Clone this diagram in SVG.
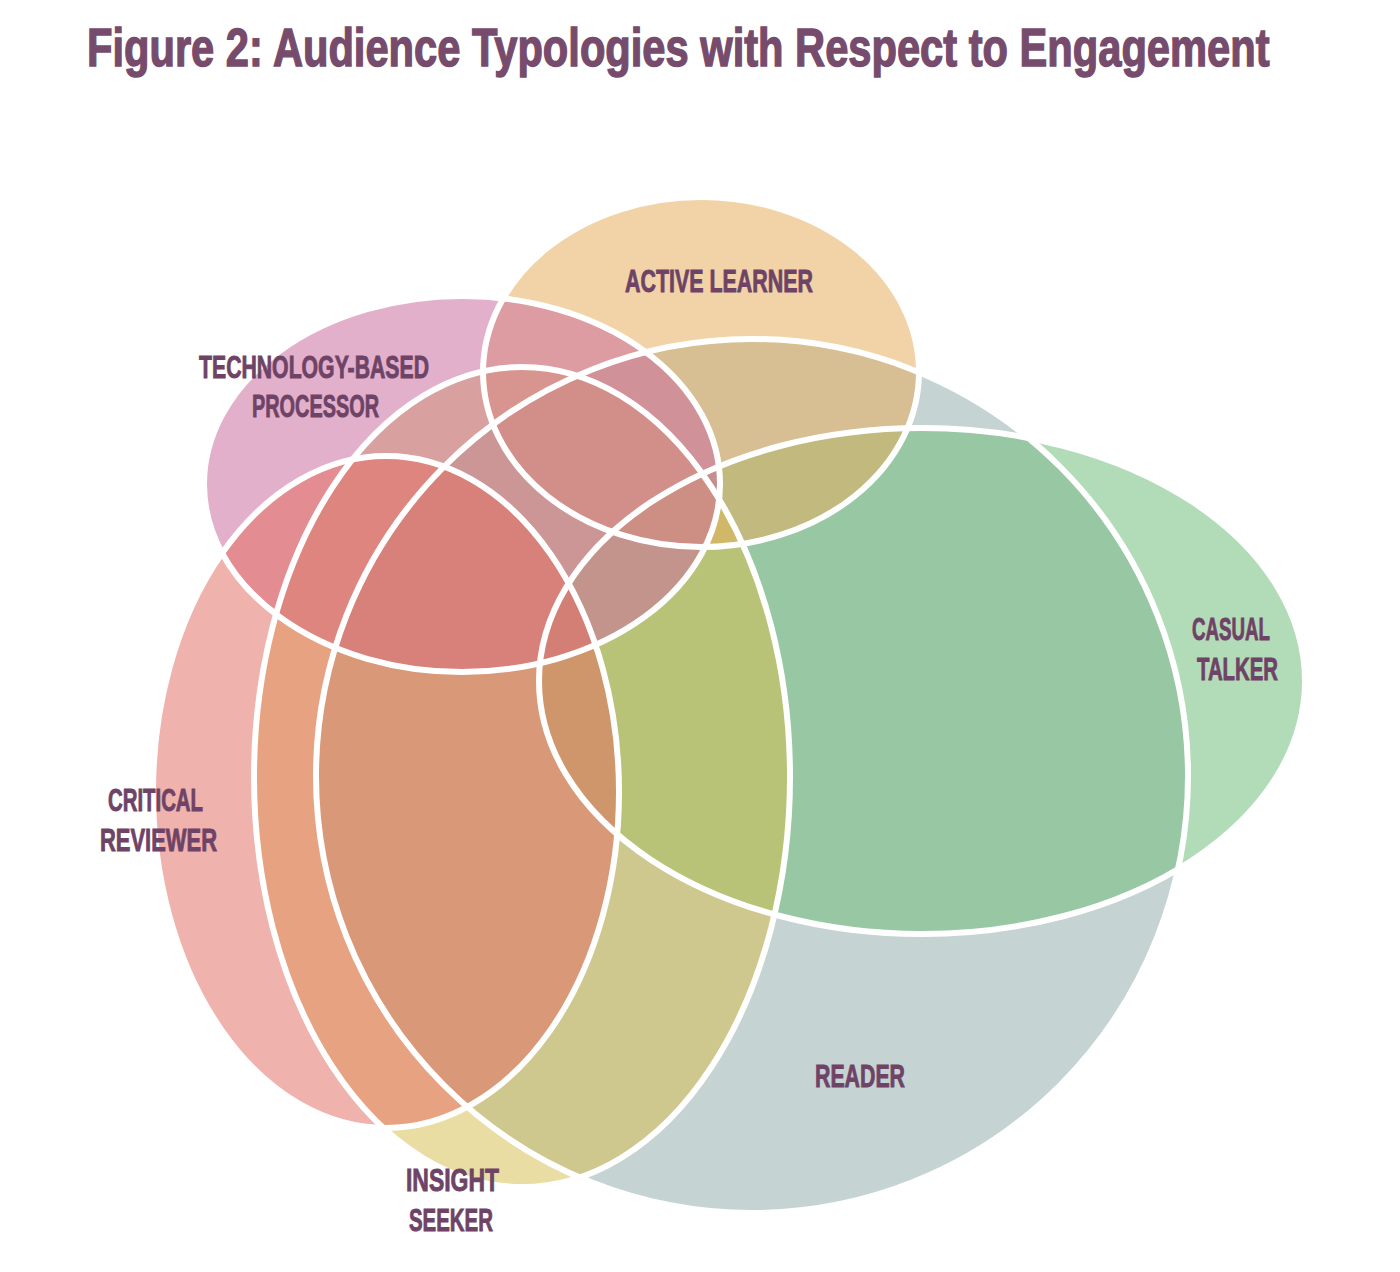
<svg xmlns="http://www.w3.org/2000/svg" xmlns:xlink="http://www.w3.org/1999/xlink" width="1400" height="1272" viewBox="0 0 1400 1272">
<style>
.fill{fill-opacity:0.53;stroke:none}
.edge{fill:none;stroke:#ffffff;stroke-width:6}
.lbl{font-family:"Liberation Sans",Arial,sans-serif;font-weight:bold;font-size:32px;fill:#6E4366;stroke:#6E4366;stroke-width:0.9;text-anchor:middle}
.title{font-family:"Liberation Sans",Arial,sans-serif;font-weight:bold;font-size:53px;fill:#764B6C;stroke:#764B6C;stroke-width:1.4}
</style>
<defs>
<ellipse id="e-reader" cx="752" cy="776" rx="436" ry="437"/>
<ellipse id="e-casual" cx="922" cy="681" rx="383" ry="253"/>
<ellipse id="e-insight" cx="522" cy="777" rx="268" ry="410"/>
<ellipse id="e-active" cx="701" cy="372" rx="218" ry="175"/>
<ellipse id="e-tech" cx="462" cy="484" rx="258" ry="188"/>
<ellipse id="e-critical" cx="386" cy="792" rx="233" ry="336"/>
</defs>
<rect width="1400" height="1272" fill="#ffffff"/>
<g id="title" transform="translate(87,66) scale(0.786,1)">
<text class="title" x="0" y="0">Figure 2: Audience Typologies with Respect to Engagement</text>
</g>
<g id="nodes">
<g id="reader"><use xlink:href="#e-reader" class="fill" fill="#92ACAC"/></g>
<g id="casual-talker"><use xlink:href="#e-casual" class="fill" fill="#6EBD79"/></g>
<g id="insight-seeker"><use xlink:href="#e-insight" class="fill" fill="#D7BF51"/></g>
<g id="active-learner"><use xlink:href="#e-active" class="fill" fill="#E6AC5B"/></g>
<g id="technology-based-processor"><use xlink:href="#e-tech" class="fill" fill="#CA6A9D"/></g>
<g id="critical-reviewer"><use xlink:href="#e-critical" class="fill" fill="#E36E62"/></g>
</g>
<g id="outlines">
<use xlink:href="#e-reader" class="edge"/>
<use xlink:href="#e-casual" class="edge"/>
<use xlink:href="#e-insight" class="edge"/>
<use xlink:href="#e-active" class="edge"/>
<use xlink:href="#e-tech" class="edge"/>
<use xlink:href="#e-critical" class="edge"/>
</g>
<g id="labels">
<g id="label-active-learner"><text class="lbl" x="719" y="292" textLength="188" lengthAdjust="spacingAndGlyphs">ACTIVE LEARNER</text></g>
<g id="label-technology-based-processor">
<text class="lbl" x="314" y="377.5" textLength="230" lengthAdjust="spacingAndGlyphs">TECHNOLOGY-BASED</text>
<text class="lbl" x="315.5" y="416.5" textLength="127" lengthAdjust="spacingAndGlyphs">PROCESSOR</text>
</g>
<g id="label-casual-talker">
<text class="lbl" x="1231" y="640" textLength="78" lengthAdjust="spacingAndGlyphs">CASUAL</text>
<text class="lbl" x="1237.5" y="679.5" textLength="81" lengthAdjust="spacingAndGlyphs">TALKER</text>
</g>
<g id="label-critical-reviewer">
<text class="lbl" x="155.5" y="811" textLength="95" lengthAdjust="spacingAndGlyphs">CRITICAL</text>
<text class="lbl" x="158.5" y="851" textLength="117" lengthAdjust="spacingAndGlyphs">REVIEWER</text>
</g>
<g id="label-reader"><text class="lbl" x="860" y="1086.5" textLength="90" lengthAdjust="spacingAndGlyphs">READER</text></g>
<g id="label-insight-seeker">
<text class="lbl" x="452.5" y="1191" textLength="93" lengthAdjust="spacingAndGlyphs">INSIGHT</text>
<text class="lbl" x="451" y="1231" textLength="84" lengthAdjust="spacingAndGlyphs">SEEKER</text>
</g>
</g>
</svg>
